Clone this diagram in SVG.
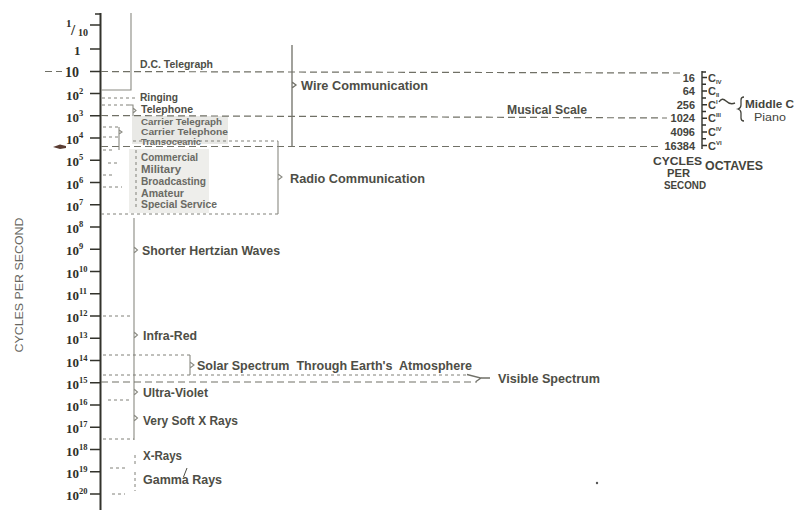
<svg xmlns="http://www.w3.org/2000/svg" width="794" height="510" viewBox="0 0 794 510">
<defs>
<style>
.ax{stroke:#33332c;stroke-width:2;fill:none}
.tk{stroke:#33332c;stroke-width:1.4;fill:none}
.dl{stroke:#707066;stroke-width:1.2;stroke-dasharray:7 4;fill:none}
.ds{stroke:#808078;stroke-width:1;stroke-dasharray:3 3;fill:none}
.br{stroke:#8a8a82;stroke-width:1.1;fill:none}
.bw{stroke:#707068;stroke-width:1.3;fill:none}
.num{font-family:"Liberation Serif","Times New Roman",serif;font-weight:bold;fill:#2f2f28}
.lb{font-family:"Liberation Sans",Arial,sans-serif;font-weight:bold;fill:#4e4e46}
.lt{font-family:"Liberation Sans",Arial,sans-serif;font-weight:bold;fill:#6a6a64}
.rn{font-family:"Liberation Sans",Arial,sans-serif;font-weight:bold;fill:#44443c;font-size:11px}
</style>
</defs>
<rect width="794" height="510" fill="#ffffff"/>

<!-- faded background patches -->
<rect x="132" y="116" width="96" height="28" fill="#e4e4e0" opacity="0.8"/>
<rect x="129" y="149" width="80" height="64" fill="#eeeeeb"/>

<!-- vertical axis title -->
<text x="0" y="0" transform="translate(23,285) rotate(-90)" text-anchor="middle" font-family="'Liberation Sans',Arial,sans-serif" font-size="10" fill="#666660" textLength="135" lengthAdjust="spacingAndGlyphs">CYCLES PER SECOND</text>

<!-- main axis -->
<g id="axis">
<line class="ax" x1="100.5" y1="13" x2="100.5" y2="510"/>
<path class="tk" d="M95,14H100 M90,25H100 M90,49H100 M90,71.5H100 M90,93.5H100 M90,115.75H100 M90,138H100 M90,160.25H100 M90,182.5H100 M90,204.75H100 M90,227H100 M90,249.25H100 M90,271.5H100 M90,293.75H100 M90,316H100 M90,338.25H100 M90,360.5H100 M90,382.75H100 M90,405H100 M90,427.25H100 M90,449.5H100 M90,471.75H100 M90,494H100"/>
<text class="num" x="66" y="27" font-size="11">1</text>
<text class="num" x="71" y="35" font-size="15">/</text>
<text class="num" x="78" y="36" font-size="10">10</text>
<text class="num" x="74" y="55" font-size="13">1</text>
<text class="num" x="65" y="77" font-size="14">10</text>
<text class="num" x="66" y="99.5" font-size="13">10<tspan font-size="8.5" dy="-6">2</tspan></text>
<text class="num" x="66" y="121.75" font-size="13">10<tspan font-size="8.5" dy="-6">3</tspan></text>
<text class="num" x="66" y="144" font-size="13">10<tspan font-size="8.5" dy="-6">4</tspan></text>
<text class="num" x="66" y="166.25" font-size="13">10<tspan font-size="8.5" dy="-6">5</tspan></text>
<text class="num" x="66" y="188.5" font-size="13">10<tspan font-size="8.5" dy="-6">6</tspan></text>
<text class="num" x="66" y="210.75" font-size="13">10<tspan font-size="8.5" dy="-6">7</tspan></text>
<text class="num" x="66" y="233" font-size="13">10<tspan font-size="8.5" dy="-6">8</tspan></text>
<text class="num" x="66" y="255.25" font-size="13">10<tspan font-size="8.5" dy="-6">9</tspan></text>
<text class="num" x="66" y="277.5" font-size="13">10<tspan font-size="8.5" dy="-6">10</tspan></text>
<text class="num" x="66" y="299.75" font-size="13">10<tspan font-size="8.5" dy="-6">11</tspan></text>
<text class="num" x="66" y="322" font-size="13">10<tspan font-size="8.5" dy="-6">12</tspan></text>
<text class="num" x="66" y="344.25" font-size="13">10<tspan font-size="8.5" dy="-6">13</tspan></text>
<text class="num" x="66" y="366.5" font-size="13">10<tspan font-size="8.5" dy="-6">14</tspan></text>
<text class="num" x="66" y="388.75" font-size="13">10<tspan font-size="8.5" dy="-6">15</tspan></text>
<text class="num" x="66" y="411" font-size="13">10<tspan font-size="8.5" dy="-6">16</tspan></text>
<text class="num" x="66" y="433.25" font-size="13">10<tspan font-size="8.5" dy="-6">17</tspan></text>
<text class="num" x="66" y="455.5" font-size="13">10<tspan font-size="8.5" dy="-6">18</tspan></text>
<text class="num" x="66" y="477.75" font-size="13">10<tspan font-size="8.5" dy="-6">19</tspan></text>
<text class="num" x="66" y="500" font-size="13">10<tspan font-size="8.5" dy="-6">20</tspan></text>
</g>

<!-- connectors / brackets -->
<g id="connectors">
<path class="dl" d="M45,71.5H62 M101,71.5L681,73"/>
<path class="dl" d="M101,115.5L667,118" stroke-dasharray="5 3"/>
<path class="dl" d="M101,146.5L662,146.5"/>
<path class="br" d="M131,13V90H101"/>
<path class="ds" d="M102,98H138"/>
<path class="ds" d="M102,105H129"/>
<path class="br" d="M129,105H133V116 M133,108L136,110.5L133,113"/>
<path class="ds" d="M103,127H120 M103,137H118 M103,150H115 M108,163H120 M103,175H115 M103,187H122"/>
<path class="br" d="M119,127V150 M119,130L122,132L119,134"/>
<path class="ds" d="M136,150V210"/>
<path class="bw" d="M292,45V146 M292,82L296,85L292,88"/>
<path class="ds" d="M133,141H278"/>
<path class="ds" d="M101,214H278"/>
<path class="br" d="M278,141V214 M278,174L282,177L278,180"/>
<path class="br" d="M134,218V440 M134,247L137.5,250L134,253 M134,332L137.5,335L134,338 M134,389L137.5,392L134,395 M134,415L137.5,418L134,421"/>
<path class="ds" d="M103,316H133"/>
<path class="ds" d="M103,355H190"/>
<path class="br" d="M190,355V375 M190,362L194,365L190,368"/>
<path class="ds" d="M103,375H467"/>
<path class="dl" d="M101,382H477" stroke-dasharray="6 3"/>
<path class="bw" d="M467,374.5L481,378L476,381.5 M481,378H490"/>
<path class="ds" d="M108,400H131"/>
<path class="ds" d="M103,439H134"/>
<path class="ds" d="M135,455V466 M135,472V491" stroke="#aaa"/>
<path class="ds" d="M110,468H125"/>
<path class="ds" d="M112,494H125" stroke="#555"/>
<path d="M53,147L60,144.5L66,146L66,148L60,149Z" fill="#5a3c32"/>
<line x1="187" y1="468" x2="183.5" y2="477" stroke="#4e4e46" stroke-width="1"/>
<circle cx="597" cy="483" r="1.2" fill="#555"/>
</g>

<!-- labels -->
<g id="n-dc"><text class="lb" x="140" y="68" font-size="10" textLength="73" lengthAdjust="spacingAndGlyphs">D.C. Telegraph</text></g>
<g id="n-ringing"><text class="lb" x="140" y="101" font-size="10" textLength="38" lengthAdjust="spacingAndGlyphs">Ringing</text></g>
<g id="n-telephone"><text class="lb" x="141" y="113" font-size="10" textLength="52" lengthAdjust="spacingAndGlyphs">Telephone</text></g>
<g id="n-ctg"><text class="lt" x="141" y="124.5" font-size="9.5" fill="#9a9a95" textLength="81" lengthAdjust="spacingAndGlyphs">Carrier Telegraph</text></g>
<g id="n-ctp"><text class="lt" x="141" y="134.5" font-size="9.5" fill="#8a8a85" textLength="87" lengthAdjust="spacingAndGlyphs">Carrier Telephone</text></g>
<g id="n-trans"><text class="lt" x="141" y="145" font-size="9" fill="#b0b0aa" textLength="60" lengthAdjust="spacingAndGlyphs">Transoceanic</text></g>
<g id="n-comm"><text class="lt" x="141" y="161" font-size="10" textLength="57" lengthAdjust="spacingAndGlyphs">Commercial</text></g>
<g id="n-mil"><text class="lt" x="141" y="173" font-size="10" textLength="40" lengthAdjust="spacingAndGlyphs">Military</text></g>
<g id="n-broad"><text class="lt" x="141" y="185" font-size="10" textLength="65" lengthAdjust="spacingAndGlyphs">Broadcasting</text></g>
<g id="n-amat"><text class="lt" x="141" y="197" font-size="10" textLength="43" lengthAdjust="spacingAndGlyphs">Amateur</text></g>
<g id="n-spec"><text class="lt" x="141" y="208" font-size="10" textLength="76" lengthAdjust="spacingAndGlyphs">Special Service</text></g>
<g id="n-wire"><text class="lb" x="301" y="90" font-size="12.5" textLength="127" lengthAdjust="spacingAndGlyphs">Wire Communication</text></g>
<g id="n-radio"><text class="lb" x="290" y="183" font-size="12.5" textLength="135" lengthAdjust="spacingAndGlyphs">Radio Communication</text></g>
<g id="n-musical"><text class="lb" x="507" y="114" font-size="12" textLength="80" lengthAdjust="spacingAndGlyphs">Musical Scale</text></g>
<g id="n-hertz"><text class="lb" x="142" y="255" font-size="13" fill="#5a5a52" textLength="138" lengthAdjust="spacingAndGlyphs">Shorter Hertzian Waves</text></g>
<g id="n-ir"><text class="lb" x="143" y="340" font-size="12.5" textLength="54" lengthAdjust="spacingAndGlyphs">Infra-Red</text></g>
<g id="n-solar"><text class="lb" x="197" y="370" font-size="12.5" textLength="275" lengthAdjust="spacingAndGlyphs" xml:space="preserve">Solar Spectrum  Through Earth's  Atmosphere</text></g>
<g id="n-visible"><text class="lb" x="498" y="383" font-size="12.5" fill="#3a3a33" textLength="102" lengthAdjust="spacingAndGlyphs">Visible Spectrum</text></g>
<g id="n-uv"><text class="lb" x="143" y="397" font-size="12" fill="#6a6a62" textLength="65" lengthAdjust="spacingAndGlyphs">Ultra-Violet</text></g>
<g id="n-soft"><text class="lb" x="143" y="425" font-size="12" fill="#5a5a52" textLength="95" lengthAdjust="spacingAndGlyphs">Very Soft X Rays</text></g>
<g id="n-xray"><text class="lb" x="143" y="460" font-size="12" textLength="39" lengthAdjust="spacingAndGlyphs">X-Rays</text></g>
<g id="n-gamma"><text class="lb" x="143" y="484" font-size="12" textLength="79" lengthAdjust="spacingAndGlyphs">Gamma Rays</text></g>

<!-- musical scale -->
<g id="n-scale">
<path class="tk" d="M702,71V149 M702,72H706 M702,77.5H707 M702,84.3H706 M702,91H707 M702,98H706 M702,104.7H707 M702,111.5H706 M702,118.3H707 M702,125H706 M702,132H707 M702,138.8H706 M702,145.5H707"/>
<text class="rn" x="695" y="81.5" text-anchor="end">16</text>
<text class="rn" x="695" y="95.1" text-anchor="end">64</text>
<text class="rn" x="695" y="108.7" text-anchor="end" fill="#2a2a24">256</text>
<text class="rn" x="695" y="122.3" text-anchor="end">1024</text>
<text class="rn" x="695" y="135.9" text-anchor="end">4096</text>
<text class="rn" x="695" y="149.5" text-anchor="end">16384</text>
<text class="rn" x="708" y="81.5">C<tspan font-size="6" dy="2">IV</tspan></text>
<text class="rn" x="708" y="95.1">C<tspan font-size="6" dy="2">II</tspan></text>
<text class="rn" x="708" y="108.7">C<tspan font-size="6" dy="-5">I</tspan></text>
<text class="rn" x="708" y="122.3">C<tspan font-size="6" dy="-5">III</tspan></text>
<text class="rn" x="708" y="135.9">C<tspan font-size="6" dy="-5">IV</tspan></text>
<text class="rn" x="708" y="149.5">C<tspan font-size="6" dy="-5">VI</tspan></text>
<path d="M719,102 q3,-5 7,-1 t9,2" stroke="#44443c" stroke-width="1.4" fill="none"/>
<path d="M744,97 q-3,0 -3,3 v5 q0,3 -3,4 q3,1 3,4 v5 q0,3 3,3" stroke="#44443c" stroke-width="1.3" fill="none"/>
<text class="rn" x="745" y="108" textLength="49" lengthAdjust="spacingAndGlyphs">Middle C</text>
<text class="rn" x="754" y="121" textLength="32" lengthAdjust="spacingAndGlyphs" style="font-weight:normal">Piano</text>
<text class="rn" x="653" y="164.5" style="font-size:11.5px" textLength="49" lengthAdjust="spacingAndGlyphs">CYCLES</text>
<text class="rn" x="667" y="177" style="font-size:11px" textLength="23" lengthAdjust="spacingAndGlyphs">PER</text>
<text class="rn" x="664" y="189" style="font-size:11px" textLength="42" lengthAdjust="spacingAndGlyphs">SECOND</text>
<text class="rn" x="705" y="170" style="font-size:12px" textLength="58" lengthAdjust="spacingAndGlyphs">OCTAVES</text>
</g>
</svg>
